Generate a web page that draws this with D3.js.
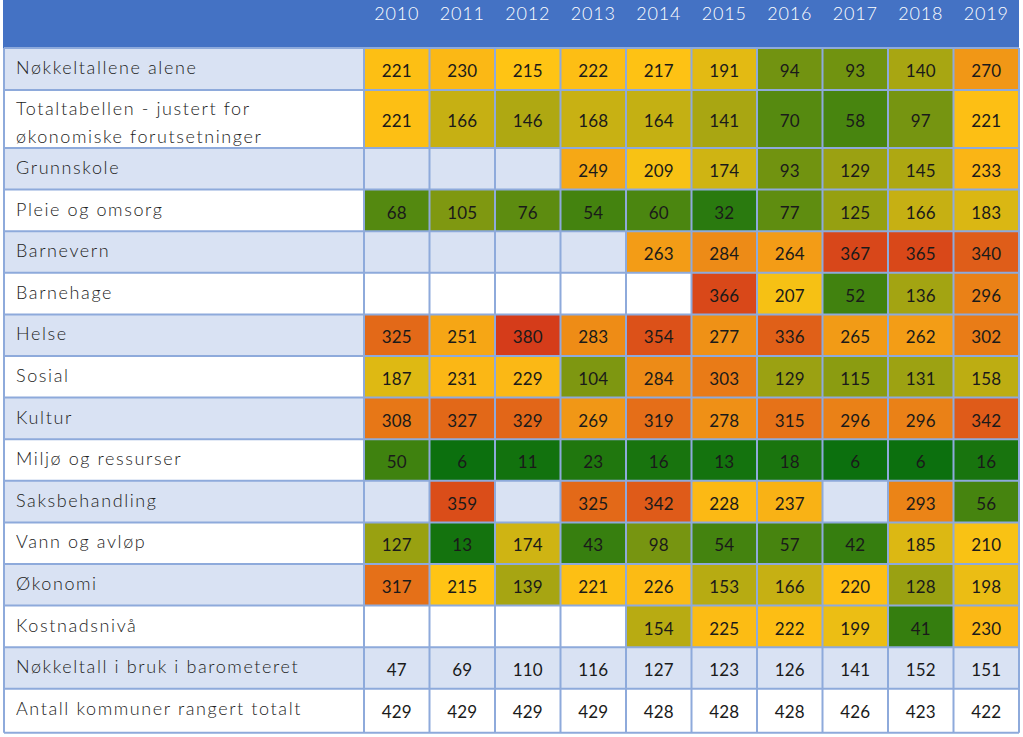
<!DOCTYPE html>
<html>
<head>
<meta charset="utf-8">
<script src="https://cdn.jsdelivr.net/npm/d3@7"></script>
<style>
  body { margin: 0; background: #fff; }
  svg text { font-family: Lato, "Open Sans", sans-serif; font-weight: 300; }
</style>
</head>
<body>
<svg id="chart" width="1023" height="737"></svg>
<script>
// tick labels across the top
var years = ["2010", "2011", "2012", "2013", "2014", "2015", "2016", "2017", "2018", "2019"];

// row labels (coloured rank rows)
var categories = [
	["Nøkkeltallene alene"],
	["Totaltabellen - justert for", "økonomiske forutsetninger"],
	["Grunnskole"],
	["Pleie og omsorg"],
	["Barnevern"],
	["Barnehage"],
	["Helse"],
	["Sosial"],
	["Kultur"],
	["Miljø og ressurser"],
	["Saksbehandling"],
	["Vann og avløp"],
	["Økonomi"],
	["Kostnadsnivå"]
];

// rank per year, null = not ranked
var ranks = [
	[221, 230, 215, 222, 217, 191, 94, 93, 140, 270],
	[221, 166, 146, 168, 164, 141, 70, 58, 97, 221],
	[null, null, null, 249, 209, 174, 93, 129, 145, 233],
	[68, 105, 76, 54, 60, 32, 77, 125, 166, 183],
	[null, null, null, null, 263, 284, 264, 367, 365, 340],
	[null, null, null, null, null, 366, 207, 52, 136, 296],
	[325, 251, 380, 283, 354, 277, 336, 265, 262, 302],
	[187, 231, 229, 104, 284, 303, 129, 115, 131, 158],
	[308, 327, 329, 269, 319, 278, 315, 296, 296, 342],
	[50, 6, 11, 23, 16, 13, 18, 6, 6, 16],
	[null, 359, null, 325, 342, 228, 237, null, 293, 56],
	[127, 13, 174, 43, 98, 54, 57, 42, 185, 210],
	[317, 215, 139, 221, 226, 153, 166, 220, 128, 198],
	[null, null, null, null, 154, 225, 222, 199, 41, 230]
];

// plain rows at the bottom
var footLabels = ["Nøkkeltall i bruk i barometeret", "Antall kommuner rangert totalt"];
var keyFigures = [47, 69, 110, 116, 127, 123, 126, 141, 152, 151];
var municipalities = [429, 429, 429, 429, 428, 428, 428, 426, 423, 422];

var svg = d3.select("#chart");
var left = 4, labelRight = 364, right = 1019, headerH = 48;

// row layout: first row 42, second 58 (two lines), rest ~41.6, last 44
var rows = [];
categories.forEach(function(c, i){ rows.push({label: c, values: ranks[i], colored: true}); });
rows.push({label: [footLabels[0]], values: keyFigures, colored: false});
rows.push({label: [footLabels[1]], values: municipalities, colored: false});

var y0 = headerH;
rows.forEach(function(r, i){
	var h = i === 0 ? 42 : (i === 1 ? 58 : (i === rows.length - 1 ? 44 : 41.6));
	r.y = y0; r.h = h; r.i = i;
	y0 += h;
});

var x = d3.scaleBand().domain(years).range([labelRight, right]).paddingInner(0);

var all = d3.merge(ranks).filter(function(d){ return d !== null; });
var color = d3.scaleLinear()
	.domain([d3.min(all), 215, d3.max(all)])
	.range(["#0c700e", "#ffc414", "#d53c1a"])
	.clamp(true);

// header
svg.append("rect").attr("x", left - 1).attr("y", 0)
	.attr("width", right - left + 1).attr("height", headerH)
	.attr("fill", "#4472c4");

svg.append("g").selectAll("text").data(years).enter().append("text")
	.attr("x", function(d){ return x(d) + x.bandwidth() / 2; })
	.attr("y", 20)
	.attr("text-anchor", "middle")
	.attr("fill", "#fff")
	.style("font-size", "18px")
	.style("letter-spacing", "0.8px")
	.text(function(d){ return d; });

// row backgrounds
var rowG = svg.append("g").selectAll("g").data(rows).enter().append("g");

rowG.append("rect")
	.attr("x", left).attr("y", function(d){ return d.y; })
	.attr("width", right - left).attr("height", function(d){ return d.h; })
	.attr("fill", function(d){ return d.i % 2 === 0 ? "#d9e2f3" : "#ffffff"; });

// labels
rowG.each(function(d){
	var g = d3.select(this);
	var base = d.label.length > 1 ? d.y + 25 : d.y + 26;
	d.label.forEach(function(line, k){
		g.append("text")
			.attr("x", 16)
			.attr("y", base + k * 28)
			.attr("fill", "#222")
			.style("font-size", "18px")
			.style("letter-spacing", "1.6px")
			.text(line);
	});
});

// cells
rowG.each(function(d){
	var g = d3.select(this);
	var cells = years.map(function(yr, j){ return {year: yr, v: d.values[j]}; });
	if(d.colored){
		g.selectAll("rect.cell").data(cells.filter(function(c){ return c.v !== null; }))
			.enter().append("rect").attr("class", "cell")
			.attr("x", function(c){ return x(c.year); })
			.attr("y", d.y)
			.attr("width", x.bandwidth())
			.attr("height", d.h)
			.attr("fill", function(c){ return color(c.v); });
	}
	g.selectAll("text.val").data(cells.filter(function(c){ return c.v !== null; }))
		.enter().append("text").attr("class", "val")
		.attr("x", function(c){ return x(c.year) + x.bandwidth() / 2; })
		.attr("y", d.h > 50 ? d.y + 37 : d.y + 29)
		.attr("text-anchor", "middle")
		.attr("fill", "#1a1a1a")
		.style("font-size", "17px")
		.style("font-weight", 400)
		.style("letter-spacing", "0.2px")
		.text(function(c){ return c.v; });
});

// grid lines
var grid = svg.append("g").attr("stroke", "#8eaadb").attr("stroke-width", 2).attr("fill", "none");
var bottom = rows[rows.length - 1].y + rows[rows.length - 1].h;
rows.forEach(function(r){
	grid.append("line").attr("x1", left).attr("x2", right).attr("y1", r.y).attr("y2", r.y);
});
grid.append("line").attr("x1", left).attr("x2", right).attr("y1", bottom).attr("y2", bottom);
[left, labelRight].concat(years.map(function(d){ return x(d) + x.bandwidth(); })).forEach(function(xx){
	grid.append("line").attr("x1", xx).attr("x2", xx).attr("y1", headerH).attr("y2", bottom);
});
</script>
</body>
</html>
